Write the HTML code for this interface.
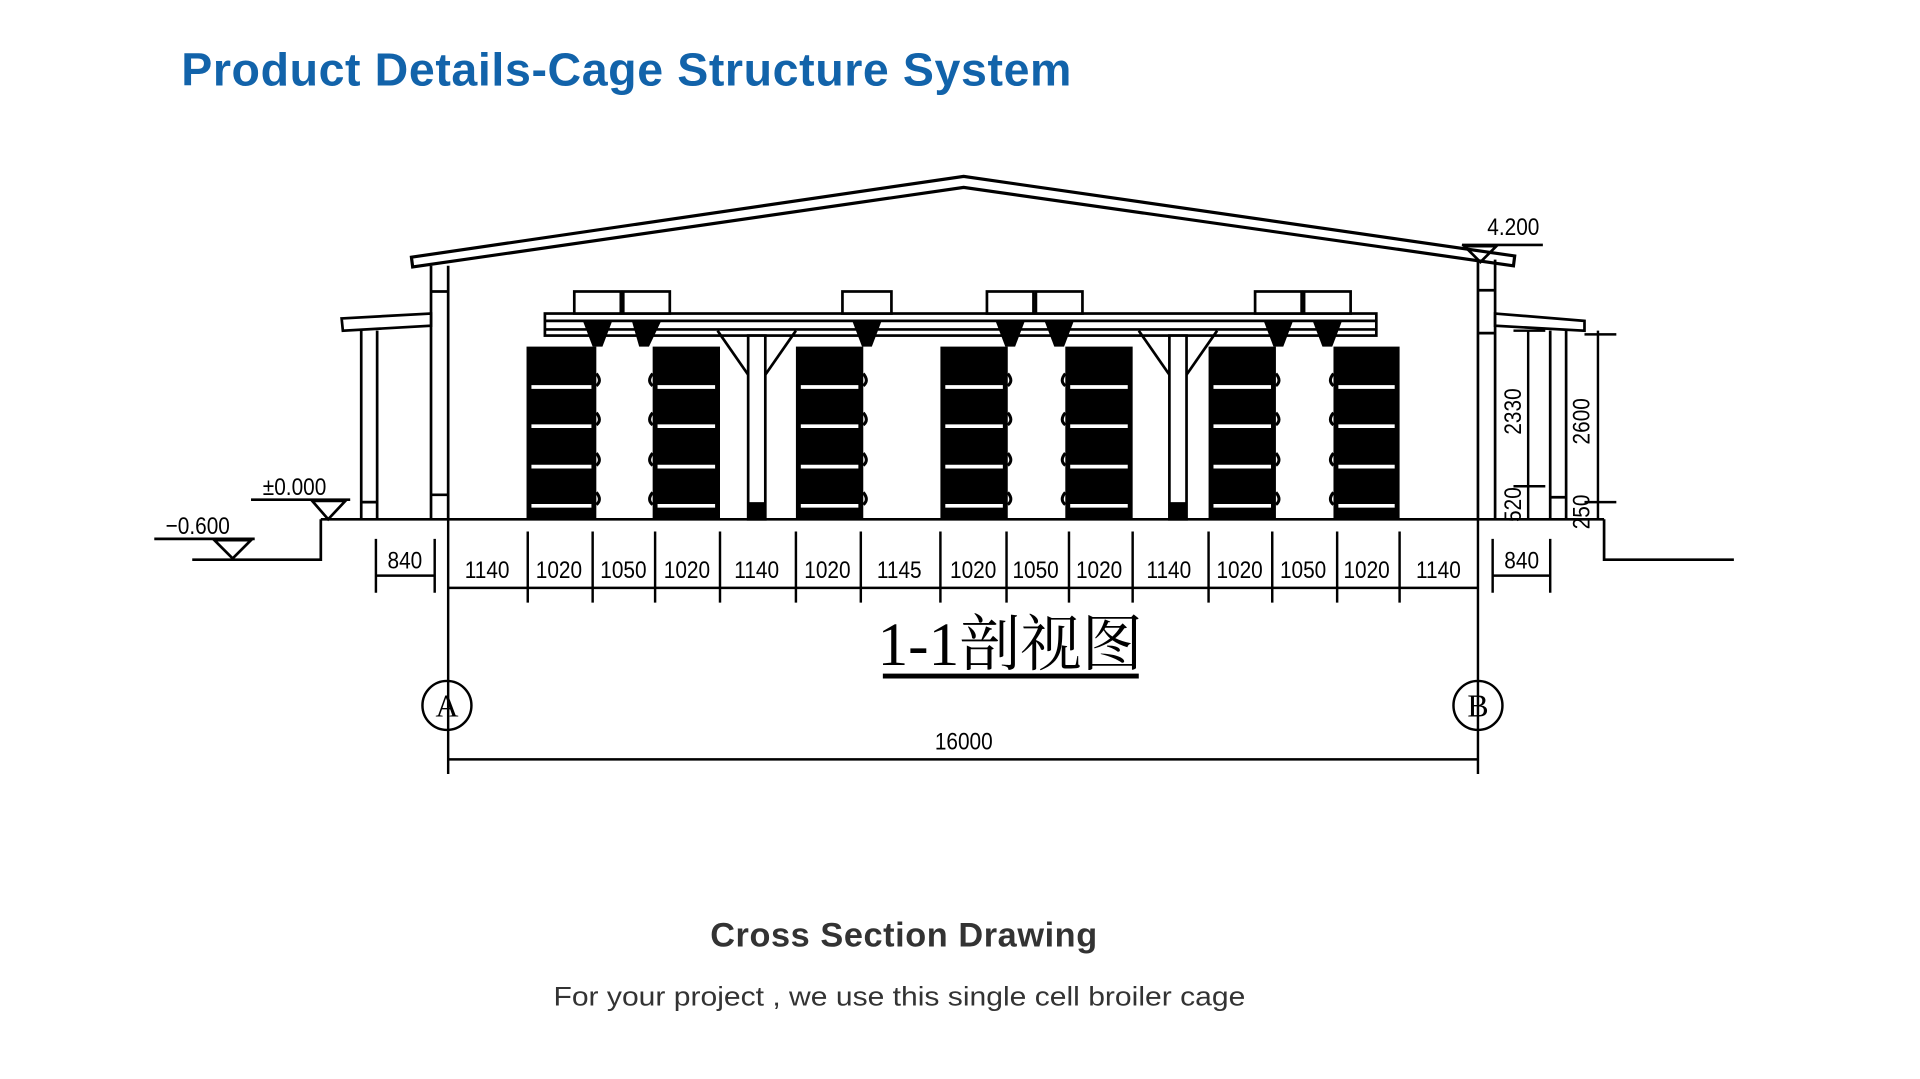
<!DOCTYPE html>
<html><head><meta charset="utf-8"><style>
html,body{margin:0;padding:0;background:#fff;}
svg{display:block}
</style></head><body>
<svg width="1920" height="1079" viewBox="0 0 1568 881" preserveAspectRatio="none" xmlns="http://www.w3.org/2000/svg">
<rect width="1568" height="881" fill="#fff"/>
<text x="148" y="70" font-family="'Liberation Sans',sans-serif" font-weight="bold" font-size="38" fill="#1263aa" textLength="727" lengthAdjust="spacing">Product Details-Cage Structure System</text>
<g stroke="#000" stroke-width="2.2" fill="none">
<polygon points="336,210 787,144 1237,209 1236,217 787,153 337,218" fill="#fff" stroke-width="2.6"/>
<line x1="352" y1="217" x2="352" y2="424"/><line x1="366" y1="217" x2="366" y2="424"/>
<line x1="352" y1="238" x2="366" y2="238"/><line x1="352" y1="404" x2="366" y2="404"/>
<line x1="1207" y1="212" x2="1207" y2="424"/><line x1="1221" y1="212" x2="1221" y2="424"/>
<line x1="1207" y1="237" x2="1221" y2="237"/><line x1="1207" y1="272" x2="1221" y2="272"/>
<polygon points="279,260 352,256 352,266 280,270" fill="#fff"/>
<line x1="295" y1="270" x2="295" y2="424"/><line x1="308" y1="270" x2="308" y2="424"/>
<line x1="295" y1="410" x2="308" y2="410"/>
<polygon points="1221,256 1294,262 1294,270 1221,266" fill="#fff"/>
<line x1="1266" y1="270" x2="1266" y2="424"/><line x1="1279" y1="270" x2="1279" y2="424"/>
<line x1="1266" y1="406" x2="1279" y2="406"/>
<line x1="262" y1="424" x2="1310" y2="424"/>
<polyline points="262,424 262,457 157,457"/>
<polyline points="1310,424 1310,457 1416,457"/>
<line x1="205" y1="408" x2="286" y2="408"/><polygon points="255,409 282,409 268,424"/>
<line x1="126" y1="440" x2="208" y2="440"/><polygon points="175,441 205,441 190,456"/>
<line x1="1194" y1="200" x2="1260" y2="200"/><polygon points="1196,201 1222,201 1209,214"/>
<rect x="445" y="256" width="679" height="18" fill="#fff"/>
<line x1="445" y1="262" x2="1124" y2="262"/><line x1="445" y1="269" x2="1124" y2="269"/>
<g fill="#fff">
<rect x="469" y="238" width="38" height="18"/><rect x="509" y="238" width="38" height="18"/>
<rect x="688" y="238" width="40" height="18"/><rect x="806" y="238" width="38" height="18"/>
<rect x="846" y="238" width="38" height="18"/><rect x="1025" y="238" width="38" height="18"/>
<rect x="1065" y="238" width="38" height="18"/>
</g>
<rect x="611" y="274" width="14" height="150" fill="#fff"/><rect x="955" y="274" width="14" height="150" fill="#fff"/>
<line x1="625" y1="306" x2="650" y2="270"/><line x1="955" y1="306" x2="930" y2="270"/>
<line x1="969" y1="306" x2="994" y2="270"/><line x1="611" y1="306" x2="586" y2="270"/>
</g>
<g fill="#000">
<rect x="611" y="410" width="14" height="14"/><rect x="955" y="410" width="14" height="14"/>
<polygon points="476,262 500,262 492,283 484,283"/><polygon points="516,262 540,262 530,283 522,283"/>
<polygon points="696,262 720,262 712,283 704,283"/><polygon points="813,262 837,262 829,283 821,283"/>
<polygon points="853,262 877,262 869,283 861,283"/><polygon points="1032,262 1056,262 1048,283 1040,283"/>
<polygon points="1072,262 1096,262 1088,283 1080,283"/>
</g>
<g>
<g fill="#000">
<rect x="430" y="283" width="57" height="141"/><rect x="533" y="283" width="55" height="141"/>
<rect x="650" y="283" width="55" height="141"/><rect x="768" y="283" width="55" height="141"/>
<rect x="870" y="283" width="55" height="141"/><rect x="987" y="283" width="55" height="141"/>
<rect x="1089" y="283" width="54" height="141"/>
</g>
<g stroke="#fff" stroke-width="3">
<path d="M434 316H483M434 348H483M434 381H483M434 413H483"/>
<path d="M537 316H584M537 348H584M537 381H584M537 413H584"/>
<path d="M654 316H701M654 348H701M654 381H701M654 413H701"/>
<path d="M772 316H819M772 348H819M772 381H819M772 413H819"/>
<path d="M874 316H921M874 348H921M874 381H921M874 413H921"/>
<path d="M991 316H1038M991 348H1038M991 381H1038M991 413H1038"/>
<path d="M1093 316H1139M1093 348H1139M1093 381H1139M1093 413H1139"/>
</g>
<g stroke="#000" stroke-width="2.5" fill="none">
<path d="M487 305q5 6 0 10M487 337q5 6 0 10M487 370q5 6 0 10M487 402q5 6 0 10"/>
<path d="M533 305q-5 6 0 10M533 337q-5 6 0 10M533 370q-5 6 0 10M533 402q-5 6 0 10"/>
<path d="M705 305q5 6 0 10M705 337q5 6 0 10M705 370q5 6 0 10M705 402q5 6 0 10"/>
<path d="M823 305q5 6 0 10M823 337q5 6 0 10M823 370q5 6 0 10M823 402q5 6 0 10"/>
<path d="M870 305q-5 6 0 10M870 337q-5 6 0 10M870 370q-5 6 0 10M870 402q-5 6 0 10"/>
<path d="M1042 305q5 6 0 10M1042 337q5 6 0 10M1042 370q5 6 0 10M1042 402q5 6 0 10"/>
<path d="M1089 305q-5 6 0 10M1089 337q-5 6 0 10M1089 370q-5 6 0 10M1089 402q-5 6 0 10"/>
</g>
</g>
<g stroke="#000" stroke-width="2" fill="none">
<line x1="366" y1="480" x2="1207" y2="480"/>
<path d="M366 424V632M1207 424V632M431 434V492M484 434V492M535 434V492M588 434V492M650 434V492M703 434V492M768 434V492M822 434V492M873 434V492M925 434V492M987 434V492M1039 434V492M1092 434V492M1143 434V492"/>
<line x1="307" y1="470" x2="355" y2="470"/><path d="M307 440V484M355 440V484"/>
<line x1="1219" y1="470" x2="1266" y2="470"/><path d="M1219 440V484M1266 440V484"/>
<line x1="366" y1="620" x2="1207" y2="620"/>
<path d="M1248 270V424M1305 270V424M1236 270H1262M1294 273H1320M1236 397H1262M1294 410H1320"/>
<circle cx="365" cy="576" r="20"/><circle cx="1207" cy="576" r="20"/>
</g>
<g font-family="'Liberation Sans',sans-serif" font-size="20" fill="#000" text-anchor="middle" transform="scale(0.85,1)">
<text x="468" y="472">1140</text><text x="537" y="472">1020</text><text x="599" y="472">1050</text><text x="660" y="472">1020</text><text x="727" y="472">1140</text><text x="795" y="472">1020</text><text x="864" y="472">1145</text><text x="935" y="472">1020</text><text x="995" y="472">1050</text><text x="1056" y="472">1020</text><text x="1123" y="472">1140</text><text x="1191" y="472">1020</text><text x="1252" y="472">1050</text><text x="1313" y="472">1020</text><text x="1382" y="472">1140</text>
<text x="389" y="464">840</text><text x="1462" y="464">840</text>
<text x="926" y="612">16000</text>
<text x="283" y="404">±0.000</text><text x="190" y="436">−0.600</text><text x="1454" y="192">4.200</text>
</g>
<g font-family="'Liberation Sans',sans-serif" font-size="20" fill="#000" text-anchor="middle">
<text transform="translate(1242,336) rotate(-90) scale(0.85,1)">2330</text>
<text transform="translate(1298,344) rotate(-90) scale(0.85,1)">2600</text>
<text transform="translate(1242,412) rotate(-90) scale(0.85,1)">520</text>
<text transform="translate(1298,418) rotate(-90) scale(0.85,1)">250</text>
</g>
<text x="365" y="585" font-family="'Liberation Serif',serif" font-size="26" text-anchor="middle">A</text>
<text x="1207" y="585" font-family="'Liberation Serif',serif" font-size="26" text-anchor="middle">B</text>
<text x="825" y="543" font-family="'Liberation Serif','Noto Serif CJK SC',serif" font-size="50" text-anchor="middle">1-1剖视图</text>
<rect x="721" y="550" width="209" height="4" fill="#000"/>
<text x="580" y="773" font-family="'Liberation Sans',sans-serif" font-weight="bold" font-size="28" fill="#333" textLength="316" lengthAdjust="spacing">Cross Section Drawing</text>
<text x="452" y="821" font-family="'Liberation Sans',sans-serif" font-size="22" fill="#333" textLength="565" lengthAdjust="spacingAndGlyphs">For your project , we use this single cell broiler cage</text>
</svg>
</body></html>
